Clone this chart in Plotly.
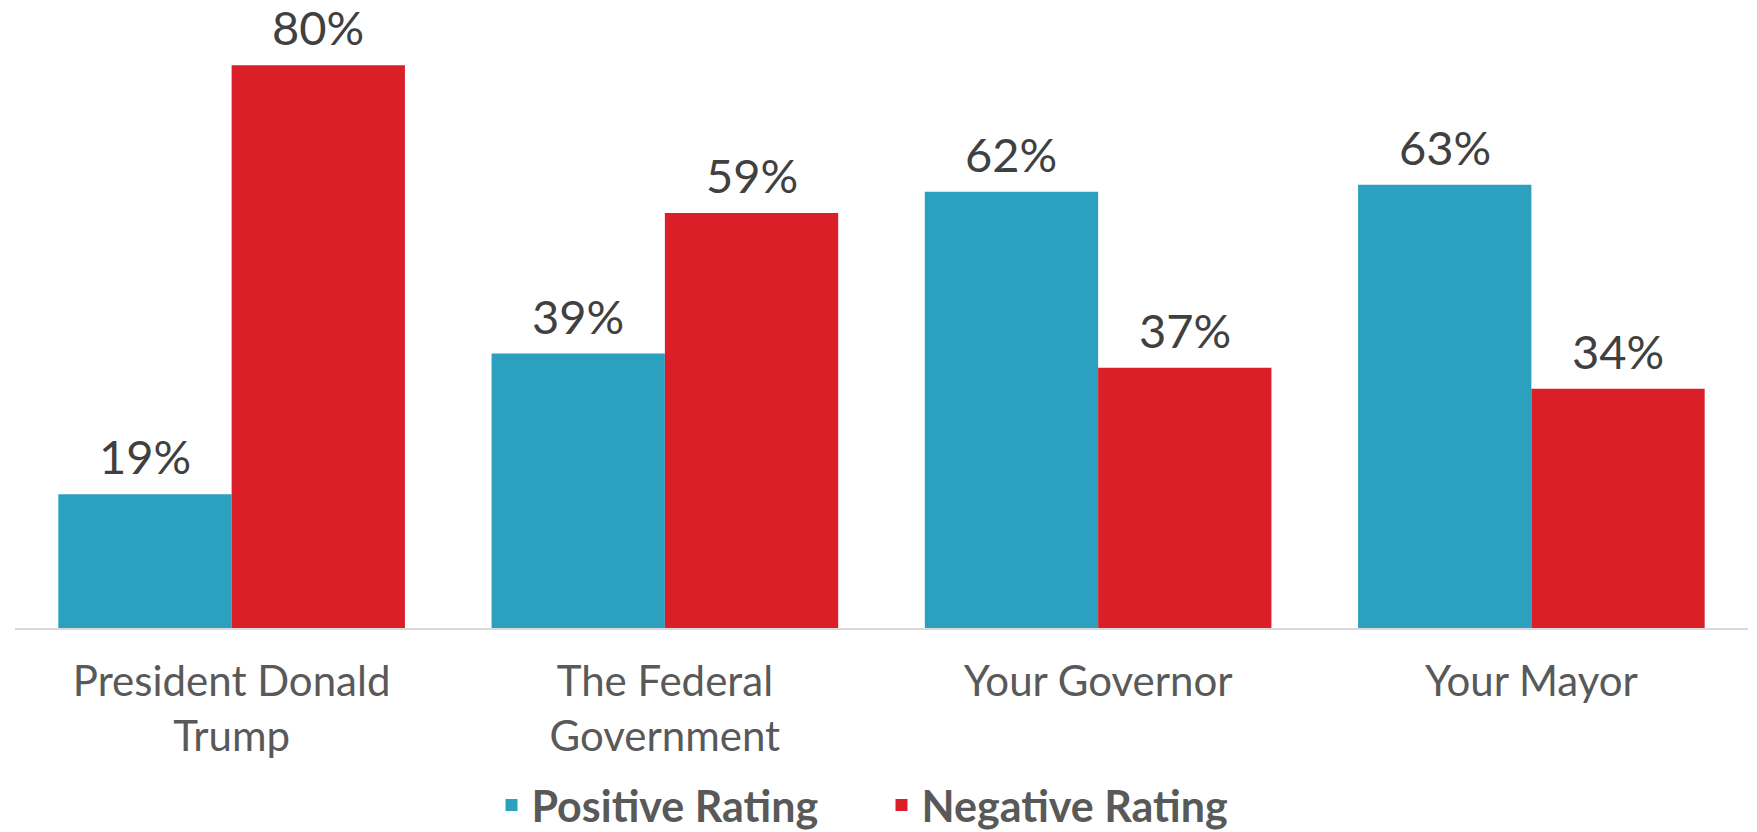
import plotly.graph_objects as go

categories = ["President Donald<br>Trump", "The Federal<br>Government", "Your Governor", "Your Mayor"]
positive = [19, 39, 62, 63]
negative = [80, 59, 37, 34]

blue = "#2CA1BF"
red = "#DA1F28"
font_family = "Lato, 'Noto Sans', sans-serif"

fig = go.Figure()
fig.add_trace(go.Bar(x=categories, y=positive, name="Positive Rating",
                     marker=dict(color=blue, line=dict(width=0))))
fig.add_trace(go.Bar(x=categories, y=negative, name="Negative Rating",
                     marker=dict(color=red, line=dict(width=0))))

# value labels above each bar
bargap = 0.2
half = (1 - bargap) / 4
for series, off in [(positive, -half), (negative, half)]:
    for i, v in enumerate(series):
        fig.add_annotation(x=i + off, y=v, xref="x", yref="y",
                           text=f"{v}%", showarrow=False,
                           yanchor="bottom", yshift=8,
                           font=dict(family=font_family, size=47, color="#404040"))

# page body has an 8px margin, so the figure is a bit smaller than the window
fig.update_layout(
    width=1749, height=824,
    margin=dict(l=7, r=9, t=22, b=204, autoexpand=False),
    plot_bgcolor="white", paper_bgcolor="white",
    barmode="group", bargap=bargap, bargroupgap=0,
    font=dict(family=font_family, color="#595959"),
    xaxis=dict(showline=True, linecolor="#D9D9D9", linewidth=2,
               tickfont=dict(size=42, color="#595959"),
               ticklabelstandoff=16, showgrid=False, automargin=False),
    yaxis=dict(range=[0, 85], visible=False, showgrid=False, zeroline=False,
               automargin=False),
    legend=dict(orientation="h", x=0.5, xanchor="center", y=-0.296, yanchor="middle",
                font=dict(size=43, color="#595959", family=font_family, weight="bold"),
                itemwidth=30, entrywidth=345, entrywidthmode="pixels"),
    showlegend=True,
)

fig.write_html("out.html")
